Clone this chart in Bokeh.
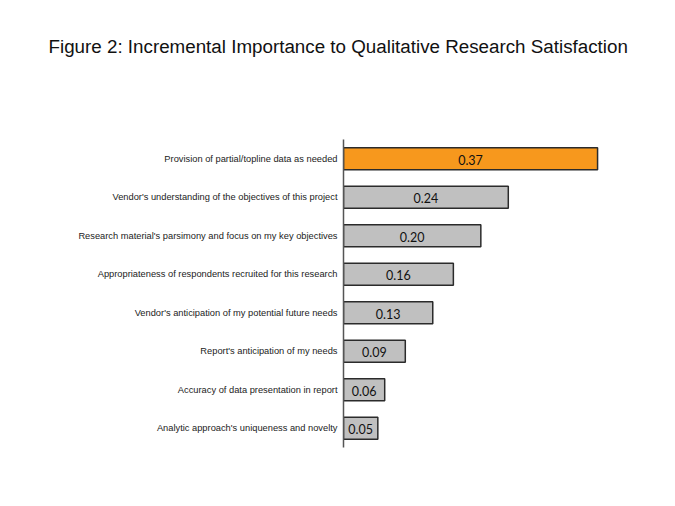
from bokeh.plotting import figure
from bokeh.models import ColumnDataSource, Range1d, FactorRange, LabelSet, Title
from bokeh.core.properties import value
from bokeh.embed import file_html
from bokeh.resources import INLINE

title_text = "Figure 2: Incremental Importance to Qualitative Research Satisfaction"
categories = [
    "Provision of partial/topline data as needed",
    "Vendor's understanding of the objectives of this project",
    "Research material's parsimony and focus on my key objectives",
    "Appropriateness of respondents recruited for this research",
    "Vendor's anticipation of my potential future needs",
    "Report's anticipation of my needs",
    "Accuracy of data presentation in report",
    "Analytic approach's uniqueness and novelty",
]
values = [0.37, 0.24, 0.20, 0.16, 0.13, 0.09, 0.06, 0.05]
value_labels = ["0.37", "0.24", "0.20", "0.16", "0.13", "0.09", "0.06", "0.05"]
bar_colors = ["#F7981D", "#C0C0C0", "#C0C0C0", "#C0C0C0", "#C0C0C0", "#C0C0C0", "#C0C0C0", "#C0C0C0"]

src = ColumnDataSource(dict(
    cat=categories,
    val=values,
    mid=[v / 2 for v in values],
    lab=value_labels,
    color=bar_colors,
))

p = figure(
    width=667, height=498,
    y_range=FactorRange(*list(reversed(categories)), range_padding=0),
    x_range=Range1d(0, 0.45),
    output_backend="svg", toolbar_location=None,
    min_border_left=343, min_border_right=15,
    min_border_top=139, min_border_bottom=51,
    title=None,
)
p.y_range.factor_padding = 0
p.hbar(y="cat", right="val", left=0, height=0.57, source=src,
       fill_color="color", line_color="#2b2b2b", line_width=1.5)

labels = LabelSet(x="mid", y="cat", text="lab", source=src,
                  text_align="center", text_baseline="middle",
                  text_font=value("Lato"), text_font_size="12.5px",
                  text_color="#111111", y_offset=-1)
p.add_layout(labels)

# near-invisible spacer between the frame and the title
p.add_layout(Title(text=" ", standoff=80, text_font_size="1px",
                   text_color="white"), "above")
p.add_layout(Title(text=title_text, align="left", offset=-295, standoff=0,
                   text_font="Liberation Sans", text_font_size="18.8px",
                   text_font_style="normal", text_color="#111111"), "above")

p.xaxis.visible = False
p.xgrid.visible = False
p.ygrid.visible = False
p.outline_line_color = None
p.background_fill_color = "white"
p.border_fill_color = "white"

ax = p.yaxis[0]
ax.axis_line_color = "#555555"
ax.axis_line_width = 1.5
ax.major_tick_line_color = None
ax.minor_tick_line_color = None
ax.major_label_text_font = "Liberation Sans"
ax.major_label_text_font_size = "9.3px"
ax.major_label_text_color = "#222222"
ax.major_label_standoff = 0

open("out.html", "w").write(file_html(p, INLINE))
